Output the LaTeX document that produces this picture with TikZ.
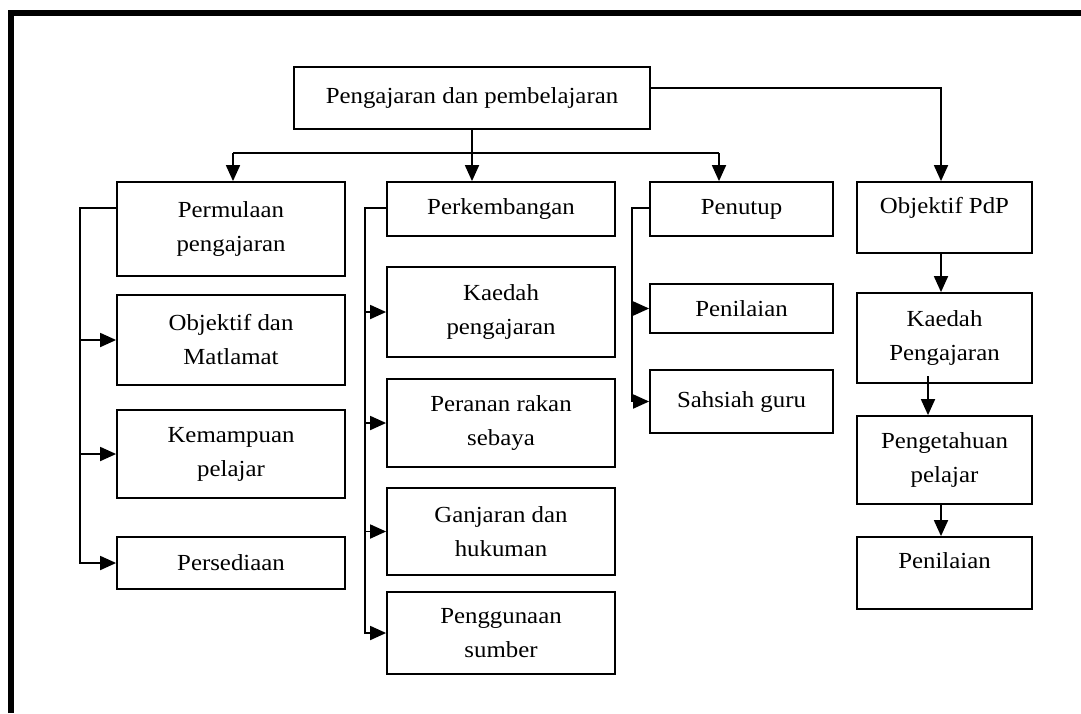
\documentclass[tikz,border=0pt]{standalone}
\usepackage{fontspec}
\setmainfont[FakeStretch=1.08]{Liberation Serif}
\usetikzlibrary{arrows.meta}
\begin{document}
\begin{tikzpicture}[x=1pt,y=-1pt,
  box/.style={draw, line width=1.8pt, inner sep=0pt, align=center,
    font=\fontsize{23pt}{34pt}\selectfont},
  conn/.style={line width=1.8pt},
  arr/.style={line width=1.8pt, -{Triangle[length=16pt,width=14pt]}}]
\useasboundingbox (0,0) rectangle (1081,713);
\draw[line width=6pt] (11,713) -- (11,13) -- (1081,13);
% top
\node[box, minimum width=356pt, minimum height=62pt] (top) at (472,98) {Pengajaran dan pembelajaran};
% column 1
\node[box, minimum width=228pt, minimum height=94pt] (perm) at (231,229) {Permulaan\\pengajaran};
\node[box, minimum width=228pt, minimum height=90pt] (obj) at (231,340) {Objektif dan\\Matlamat};
\node[box, minimum width=228pt, minimum height=88pt] (kem) at (231,454) {Kemampuan\\pelajar};
\node[box, minimum width=228pt, minimum height=52pt] (pers) at (231,563) {Persediaan};
% column 2
\node[box, minimum width=228pt, minimum height=54pt] (perk) at (501,209) {Perkembangan};
\node[box, minimum width=228pt, minimum height=90pt] (kaed) at (501,312) {Kaedah\\pengajaran};
\node[box, minimum width=228pt, minimum height=88pt] (peran) at (501,423) {Peranan rakan\\sebaya};
\node[box, minimum width=228pt, minimum height=87pt] (ganj) at (501,531.5) {Ganjaran dan\\hukuman};
\node[box, minimum width=228pt, minimum height=82pt] (pengg) at (501,633) {Penggunaan\\sumber};
% column 3
\node[box, minimum width=183pt, minimum height=54pt] (penutup) at (741.5,209) {Penutup};
\node[box, minimum width=183pt, minimum height=49pt] (penil) at (741.5,308.5) {Penilaian};
\node[box, minimum width=183pt, minimum height=63pt] (sahs) at (741.5,401.5) {Sahsiah guru};
% column 4
\node[box, minimum width=175pt, minimum height=71pt, text depth=25pt] (objp) at (944.5,217.5) {Objektif PdP};
\node[box, minimum width=175pt, minimum height=90pt] (kaedp) at (944.5,338) {Kaedah\\Pengajaran};
\node[box, minimum width=175pt, minimum height=88pt] (penget) at (944.5,460) {Pengetahuan\\pelajar};
\node[box, minimum width=175pt, minimum height=72pt, text depth=25pt] (penil2) at (944.5,573) {Penilaian};
% top connectors
\coordinate (bl) at (233,153);
\coordinate (brr) at (719,153);
\coordinate (rc) at (941,88);
\draw[arr] (top.south) -- (top.south |- perk.north);
\draw[conn] (bl) -- (brr);
\draw[arr] (bl) -- (bl |- perm.north);
\draw[arr] (brr) -- (brr |- penutup.north);
\draw[arr] (top.east |- rc) -- (rc) -- (rc |- objp.north);
% column 1 bracket
\coordinate (c1) at (80,208);
\draw[arr] (c1 -| perm.west) -- (c1) |- (pers.west);
\draw[arr] (c1 |- obj.west) -- (obj.west);
\draw[arr] (c1 |- kem.west) -- (kem.west);
% column 2 bracket
\coordinate (c2) at (365,208);
\draw[arr] (c2 -| perk.west) -- (c2) |- (pengg.west);
\draw[arr] (c2 |- kaed.west) -- (kaed.west);
\draw[arr] (c2 |- peran.west) -- (peran.west);
\draw[arr] (c2 |- ganj.west) -- (ganj.west);
% column 3 bracket
\coordinate (c3) at (632,208);
\draw[arr] (c3 -| penutup.west) -- (c3) |- (sahs.west);
\draw[arr] (c3 |- penil.west) -- (penil.west);
% column 4 chain
\coordinate (k2) at (928,376);
\draw[arr] (rc |- objp.south) -- (rc |- kaedp.north);
\draw[arr] (k2) -- (k2 |- penget.north);
\draw[arr] (rc |- penget.south) -- (rc |- penil2.north);
\end{tikzpicture}
\end{document}
